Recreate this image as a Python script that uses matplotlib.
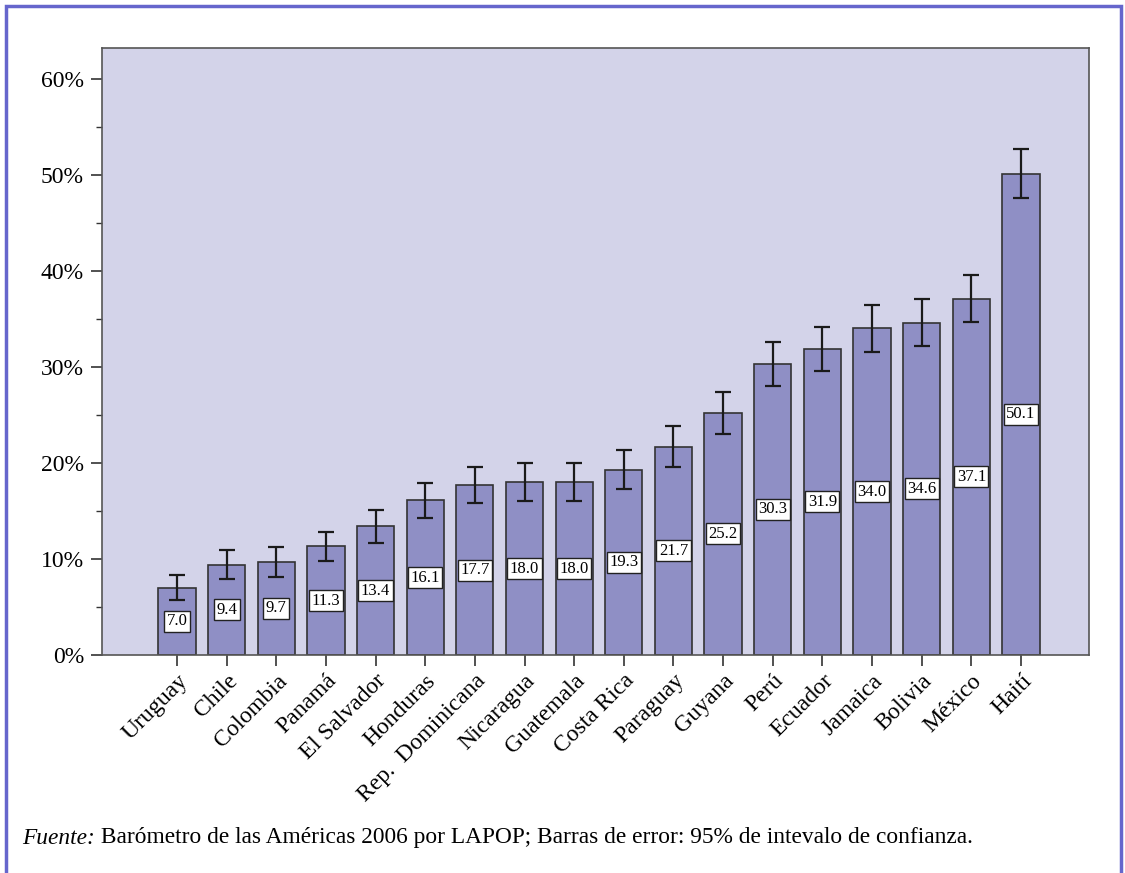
import matplotlib.pyplot as plt
from matplotlib.patches import Rectangle
from matplotlib.ticker import MultipleLocator, FuncFormatter
import numpy as np

paises = ["Uruguay", "Chile", "Colombia", "Panamá", "El Salvador", "Honduras",
          "Rep.  Dominicana", "Nicaragua", "Guatemala", "Costa Rica", "Paraguay",
          "Guyana", "Perú", "Ecuador", "Jamaica", "Bolivia", "México", "Haití"]
valores = [7.0, 9.4, 9.7, 11.3, 13.4, 16.1, 17.7, 18.0, 18.0, 19.3, 21.7,
           25.2, 30.3, 31.9, 34.0, 34.6, 37.1, 50.1]
error_ic = [1.3, 1.5, 1.55, 1.55, 1.7, 1.8, 1.9, 1.95, 1.95, 2.0, 2.1,
            2.2, 2.25, 2.3, 2.4, 2.45, 2.45, 2.55]

plt.rcParams['font.family'] = ['Liberation Serif', 'DejaVu Serif']

fig = plt.figure(figsize=(11.25, 8.73), dpi=100)
ax = fig.add_axes([102 / 1125, 1 - 655 / 873, 987 / 1125, 607 / 873])
ax.set_facecolor('#D3D3E9')

x = np.arange(len(paises))
ax.bar(x, valores, width=0.75, color='#8F8FC5', edgecolor='#333333', linewidth=1.2, zorder=2)
ax.errorbar(x, valores, yerr=error_ic, fmt='none', ecolor='#1a1a1a', elinewidth=1.6,
            capsize=6, capthick=1.6, zorder=3)

for xi, v in zip(x, valores):
    ax.text(xi, v / 2, f"{v:.1f}", ha='center', va='center', fontsize=12, zorder=4,
            bbox=dict(boxstyle='square,pad=0.15', facecolor='white', edgecolor='#222222', linewidth=1))

ax.set_xlim(-1.51, len(paises) - 1 + 1.37)
ax.set_ylim(0, 63.2)
ax.yaxis.set_major_locator(MultipleLocator(10))
ax.yaxis.set_minor_locator(MultipleLocator(5))
ax.yaxis.set_major_formatter(FuncFormatter(lambda v, p: f"{v:.0f}%"))
ax.set_xticks(x)
ax.set_xticklabels(paises, rotation=45, ha='right', rotation_mode='anchor', fontsize=17)
ax.tick_params(axis='y', which='major', length=8, width=1.2, labelsize=17, color='#333333', pad=5)
ax.tick_params(axis='y', which='minor', length=4, width=1, color='#333333')
ax.tick_params(axis='x', length=8, width=1.2, color='#333333', pad=3)
for s in ax.spines.values():
    s.set_color('#555555')
    s.set_linewidth(1.2)

# pie de figura
t1 = fig.text(22 / 1125, 1 - 838 / 873, "Fuente:", fontsize=16.8, style='italic', va='center')
ax.annotate(" Barómetro de las Américas 2006 por LAPOP; Barras de error: 95% de intevalo de confianza.",
            xy=(1, 0.5), xycoords=t1, va='center', ha='left', fontsize=16.8, annotation_clip=False)

# marco
fig.patches.append(Rectangle((6 / 1125, -0.01), 1115 / 1125, 1 - 6 / 873 + 0.01,
                             transform=fig.transFigure, fill=False, edgecolor='#6666CC', linewidth=2.5))

fig.savefig('out.png', dpi=100)
